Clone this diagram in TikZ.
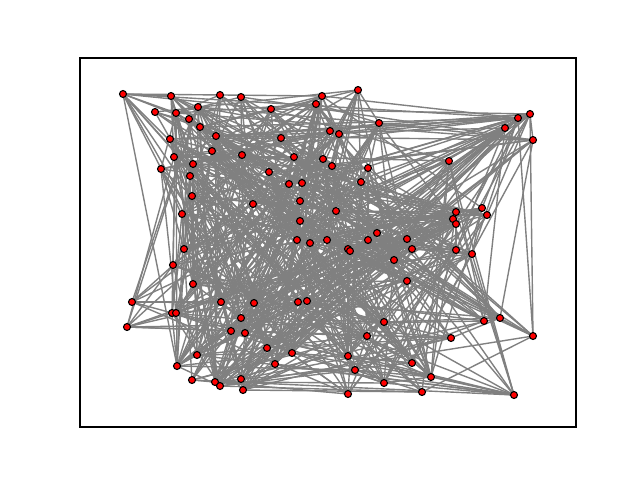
\documentclass[tikz,border=0pt]{standalone}
\begin{document}
\begin{tikzpicture}[x=0.72pt,y=-0.72pt,
	vertex/.style={circle,draw=black,fill=red,line width=0.8pt,inner sep=0pt,minimum size=5pt},
	edge/.style={draw=gray,line width=1pt}]
	\def\p{0.13} % xác suất có cạnh
	\useasboundingbox (0,0) rectangle (640,480);
	\draw[line width=0.8pt] (80,58) rectangle (576,427);
	% các đỉnh
	\foreach \x/\y[count=\i] in {123/94,171/96,220/95,241/97,322/96,358/90,155/112,176/113,198/107,189/119,
		271/109,316/104,200/127,216/136,170/139,281/138,330/131,339/134,379/123,530/114,
		518/118,505/128,533/140,212/151,174/157,242/155,294/157,193/164,161/169,323/159,
		332/166,449/161,368/168,269/172,190/176,289/184,302/183,361/182,192/196,300/201,
		253/204,336/211,182/214,482/208,456/212,453/219,456/224,487/215,300/221,377/233,
		297/240,310/243,327/240,368/240,407/239,184/249,348/249,350/251,412/249,456/250,
		472/254,394/260,173/265,193/284,407/281,132/302,221/302,254/303,298/302,307/301,
		172/313,176/313,127/327,241/318,231/331,245/333,384/322,484/321,500/318,533/336,
		367/336,451/338,267/348,292/353,197/355,348/356,412/363,177/366,355/370,275/364,
		431/377,192/380,215/382,220/386,241/379,384/383,243/390,348/394,422/392,514/395}
	\coordinate (P\i) at (\x,\y);
	% các cạnh ngẫu nhiên
	\pgfmathsetseed{2024}
	\foreach \i in {1,...,99}{
		\pgfmathtruncatemacro\k{\i+1}
		\foreach \j in {\k,...,100}{
			\pgfmathtruncatemacro\hit{rnd<\p}
			\ifnum\hit=1 \draw[edge] (P\i)--(P\j);\fi
		}
	}
	\foreach \i in {1,...,100}
	\node[vertex] (V\i) at (P\i) {};
\end{tikzpicture}
\end{document}
